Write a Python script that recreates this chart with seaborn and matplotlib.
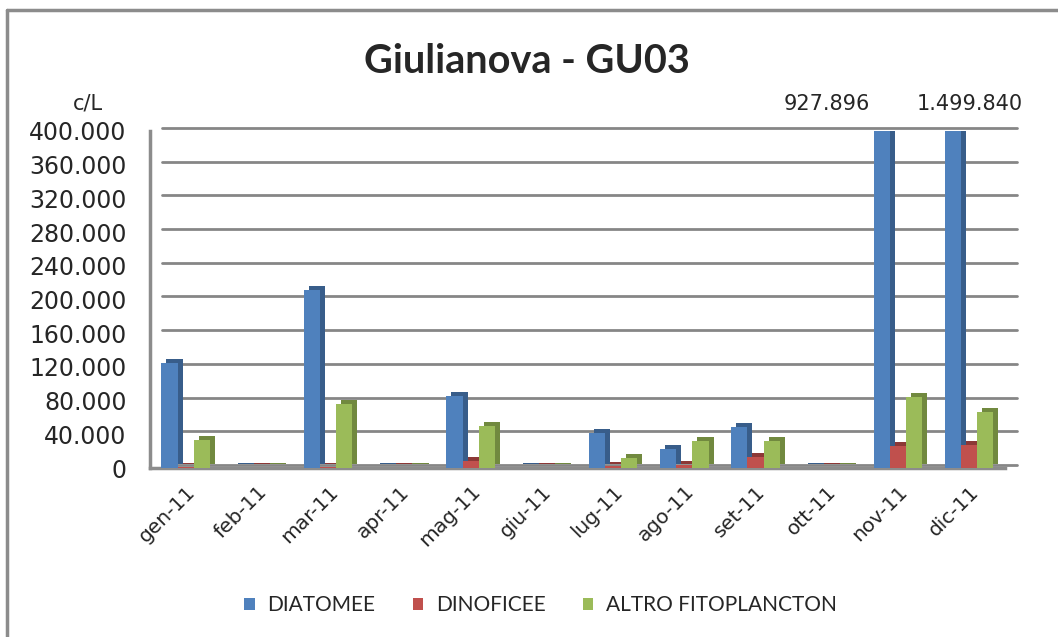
import matplotlib
matplotlib.use("Agg")
import matplotlib.pyplot as plt
import matplotlib.transforms as mtransforms
from matplotlib.patches import Rectangle
from matplotlib.ticker import FuncFormatter, FixedLocator
import seaborn as sb
import pandas as pd

# DATA #
months = ["gen-11", "feb-11", "mar-11", "apr-11", "mag-11", "giu-11",
          "lug-11", "ago-11", "set-11", "ott-11", "nov-11", "dic-11"]
diatomee = [125000, 0, 211000, 0, 86000, 0, 42000, 23000, 49000, 0, 927896, 1499840]
dinoficee = [1000, 0, 1000, 0, 8000, 0, 2000, 3500, 13000, 0, 26000, 27000]
altro = [33000, 0, 76000, 0, 50000, 0, 12000, 32000, 32000, 0, 84000, 67000]
series = ["DIATOMEE", "DINOFICEE", "ALTRO FITOPLANCTON"]
y_ticks = list(range(0, 400001, 40000))

colors = ["#4F81BD", "#C0504D", "#9BBB59"]
sides = ["#385D8A", "#8C3836", "#71893F"]

df = pd.DataFrame({
    "mese": months * 3,
    "valore": diatomee + dinoficee + altro,
    "serie": [s for s in series for _ in months],
})

# FIGURE #
sb.set_style("white")
plt.rcParams["font.family"] = ["DejaVu Sans"]
fig = plt.figure(figsize=(10.58, 6.37), dpi=100)
ax = fig.add_axes([0.1418, 0.2653, 0.808, 0.5291])

sb.barplot(data=df, x="mese", y="valore", hue="serie", palette=colors,
           width=0.68, linewidth=0, saturation=1, ax=ax, zorder=3)
ax.set_ylim(0, 400000)
ax.set_xlim(-0.5, 11.5)

# fake 3D depth: darker copy shifted back (thin slab for empty months)
depth = mtransforms.offset_copy(ax.transData, fig=fig, x=5, y=4, units="dots")
for cont, sc in zip(ax.containers, sides):
    for bar in cont:
        h = max(bar.get_height(), 1500)
        sh = Rectangle(bar.get_xy(), bar.get_width(), h,
                       facecolor=sc, linewidth=0, transform=depth, zorder=2)
        ax.add_patch(sh)

# back wall gridlines
wall = mtransforms.offset_copy(ax.get_yaxis_transform(), fig=fig, x=12, y=3, units="dots")
for v in y_ticks:
    ax.plot([0, 1.0], [v, v], color="#868686", lw=2, transform=wall,
            clip_on=False, zorder=1)

# axes styling
for s in ["top", "right"]:
    ax.spines[s].set_visible(False)
for s in ["left", "bottom"]:
    ax.spines[s].set_color("#8C8C8C")
    ax.spines[s].set_linewidth(2.5)
ax.yaxis.set_major_locator(FixedLocator(y_ticks))
ax.yaxis.set_major_formatter(FuncFormatter(lambda v, p: f"{int(v):,}".replace(",", ".")))
ax.tick_params(axis="y", direction="out", length=6, width=2, color="#8C8C8C",
               labelsize=17, pad=11)
ax.set_xticks(range(len(months)))
ax.set_xticklabels(months, rotation=45, ha="right", rotation_mode="anchor")
ax.tick_params(axis="x", which="major", length=0, labelsize=14.5, pad=10)
ax.set_xticks([i - 0.5 for i in range(len(months) + 1)], minor=True)
ax.tick_params(axis="x", which="minor", direction="out", length=6, width=2,
               color="#8C8C8C")
ax.set_xlabel("")
ax.set_ylabel("")
ax.grid(False)

# values of clipped bars
ax.text(9.0, 432000, "927.896", ha="center", va="center", fontsize=15, clip_on=False)
ax.text(11.0, 432000, "1.499.840", ha="center", va="center", fontsize=15, clip_on=False)

fig.text(0.083, 0.838, "c/L", ha="center", va="center", fontsize=15)
fig.text(0.498, 0.904, "Giulianova - GU03", ha="center", va="center",
         fontsize=28.5, fontweight="bold", family=["Lato", "DejaVu Sans"])

sb.move_legend(ax, "center", bbox_to_anchor=(0.511, 0.05), bbox_transform=fig.transFigure,
               ncol=3, frameon=False, title=None, handlelength=0.5, handleheight=0.5,
               columnspacing=1.8, handletextpad=0.6,
               prop={"family": ["Lato", "DejaVu Sans"], "size": 15})

# chart border (left and top)
fig.add_artist(plt.Line2D([0.0066, 0.0066], [0.0, 0.984], color="#8C8C8C", lw=2.5))
fig.add_artist(plt.Line2D([0.0066, 1.0], [0.984, 0.984], color="#8C8C8C", lw=2.5))

plt.savefig("out.png", dpi=100)
